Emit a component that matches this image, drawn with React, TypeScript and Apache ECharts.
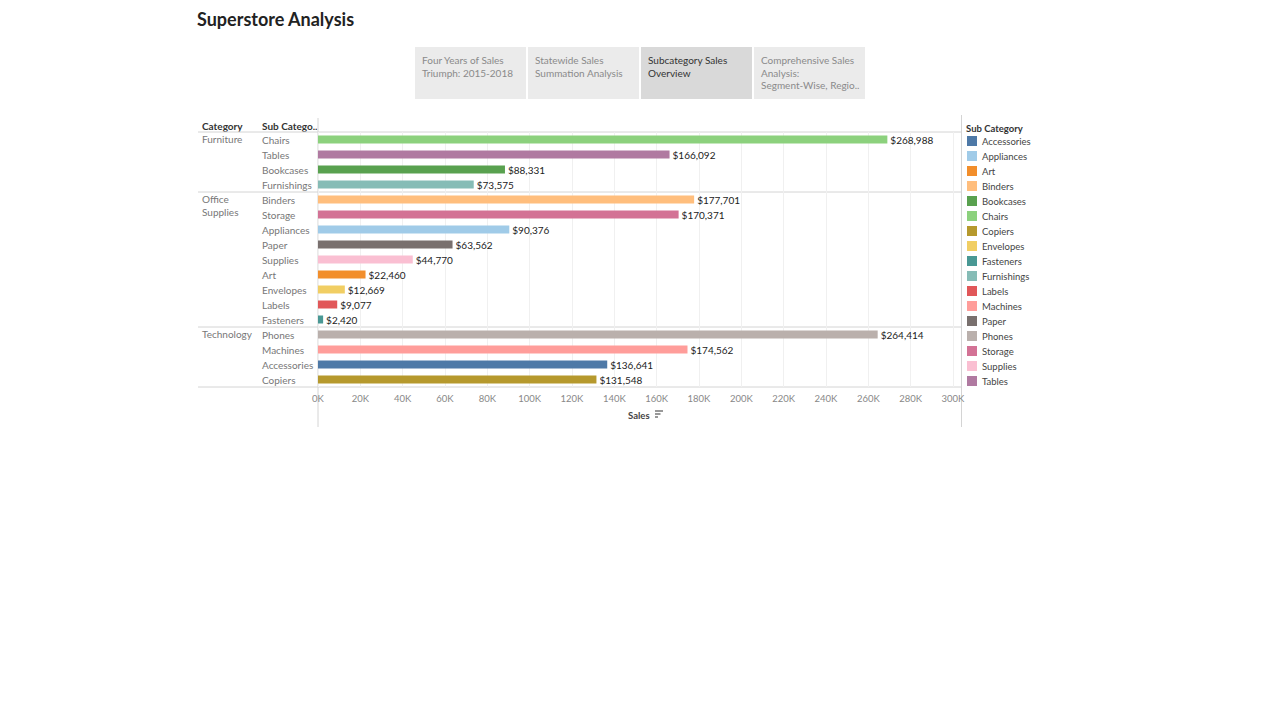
import React, { useEffect, useRef } from "react";
import * as echarts from "echarts";

const subCategories = ["Chairs","Tables","Bookcases","Furnishings","Binders","Storage","Appliances","Paper","Supplies","Art","Envelopes","Labels","Fasteners","Phones","Machines","Accessories","Copiers"];
const sales = [268988,166092,88331,73575,177701,170371,90376,63562,44770,22460,12669,9077,2420,264414,174562,136641,131548];
const categories = [["Furniture"],["Office","Supplies"],["Technology"]];
const categoryStartRow = [0,4,13];
const legendNames = ["Accessories","Appliances","Art","Binders","Bookcases","Chairs","Copiers","Envelopes","Fasteners","Furnishings","Labels","Machines","Paper","Phones","Storage","Supplies","Tables"];
const legendColors = ["#4e79a7","#a0cbe8","#f28e2b","#ffbe7d","#59a14f","#8cd17d","#b6992d","#f1ce63","#499894","#86bcb6","#e15759","#ff9d9a","#79706e","#bab0ac","#d37295","#fabfd2","#b07aa1"];
const tabs = [["Four Years of Sales","Triumph: 2015-2018"],["Statewide Sales","Summation Analysis"],["Subcategory Sales","Overview"],["Comprehensive Sales","Analysis:","Segment-Wise, Regio.."]];
const activeTab = 2;

const FONT = "Lato, 'Open Sans', sans-serif";

export default function App() {
  const ref = useRef<HTMLDivElement>(null);
  useEffect(() => {
    const chart = echarts.init(ref.current!, null, { renderer: "svg" });
    const colorOf = (n: string) => legendColors[legendNames.indexOf(n)];
    const rowH = 15, top = 132, plotLeft = 318, plotRight = 953;
    const g: any[] = [];
    g.push({ type: "text", left: 197, top: 10, style: { text: "Superstore Analysis", font: `bold 18px ${FONT}`, fill: "#222" } });
    tabs.forEach((t, i) => {
      const x = 415 + i * 113;
      g.push({ type: "rect", shape: { x, y: 47, width: 111, height: 52 }, style: { fill: i === activeTab ? "#d9d9d9" : "#ebebeb" } });
      t.forEach((line, j) => g.push({ type: "text", x: x + 7, y: 55 + j * 12.5, style: { text: line, font: `10px ${FONT}`, fill: i === activeTab ? "#333" : "#8a8a8a" } }));
    });
    g.push({ type: "text", x: 202, y: 121, style: { text: "Category", font: `bold 10px ${FONT}`, fill: "#333" } });
    g.push({ type: "text", x: 262, y: 121, style: { text: "Sub Catego..", font: `bold 10px ${FONT}`, fill: "#333" } });
    categories.forEach((c, i) => c.forEach((line, j) => g.push({ type: "text", x: 202, y: top + categoryStartRow[i] * rowH + 2 + j * 12.5, style: { text: line, font: `10px ${FONT}`, fill: "#777" } })));
    [0, 4, 13, 17].forEach((r) => g.push({ type: "line", shape: { x1: 198, y1: top + r * rowH, x2: 961, y2: top + r * rowH }, style: { stroke: "#d4d4d4", lineWidth: 1 } }));
    g.push({ type: "line", shape: { x1: 318, y1: 118, x2: 318, y2: 427 }, style: { stroke: "#d4d4d4" } });
    g.push({ type: "line", shape: { x1: 961.5, y1: 115, x2: 961.5, y2: 427 }, style: { stroke: "#d4d4d4" } });
    g.push({ type: "text", x: 966, y: 123, style: { text: "Sub Category", font: `bold 9.5px ${FONT}`, fill: "#333" } });
    legendNames.forEach((n, i) => {
      g.push({ type: "rect", shape: { x: 967, y: 136 + i * 15, width: 10, height: 10 }, style: { fill: legendColors[i] } });
      g.push({ type: "text", x: 982, y: 136 + i * 15, style: { text: n, font: `9.5px ${FONT}`, fill: "#444" } });
    });
    g.push({ type: "text", x: 628, y: 410, style: { text: "Sales", font: `bold 9.5px ${FONT}`, fill: "#444" } });
    [0, 3, 6].forEach((dy, k) => g.push({ type: "line", shape: { x1: 655, y1: 411 + dy, x2: 663 - k * 2.5, y2: 411 + dy }, style: { stroke: "#555", lineWidth: 1.2 } }));

    chart.setOption({
      animation: false,
      textStyle: { fontFamily: FONT },
      grid: { left: plotLeft, right: 1280 - plotRight, top, height: rowH * subCategories.length },
      xAxis: {
        type: "value", min: 0, max: 300000, interval: 20000,
        axisLine: { show: false }, axisTick: { show: false },
        splitLine: { lineStyle: { color: "#f0f0f0" } },
        axisLabel: { color: "#888", fontSize: 9.5, margin: 6, formatter: (v: number) => v / 1000 + "K" },
      },
      yAxis: {
        type: "category", inverse: true, data: subCategories,
        axisLine: { show: false }, axisTick: { show: false },
        axisLabel: { align: "left", margin: 56, color: "#777", fontSize: 10 },
      },
      series: [{
        type: "bar", barWidth: 8,
        data: sales.map((v, i) => ({ value: v, itemStyle: { color: colorOf(subCategories[i]) } })),
        label: { show: true, position: "right", distance: 3, fontSize: 10, color: "#222", formatter: (p: any) => "$" + p.value.toLocaleString("en-US") },
      }],
      graphic: g,
    });
    return () => chart.dispose();
  }, []);
  return <div ref={ref} style={{ position: "fixed", left: 0, top: 0, width: 1280, height: 720, background: "#fff" }} />;
}
